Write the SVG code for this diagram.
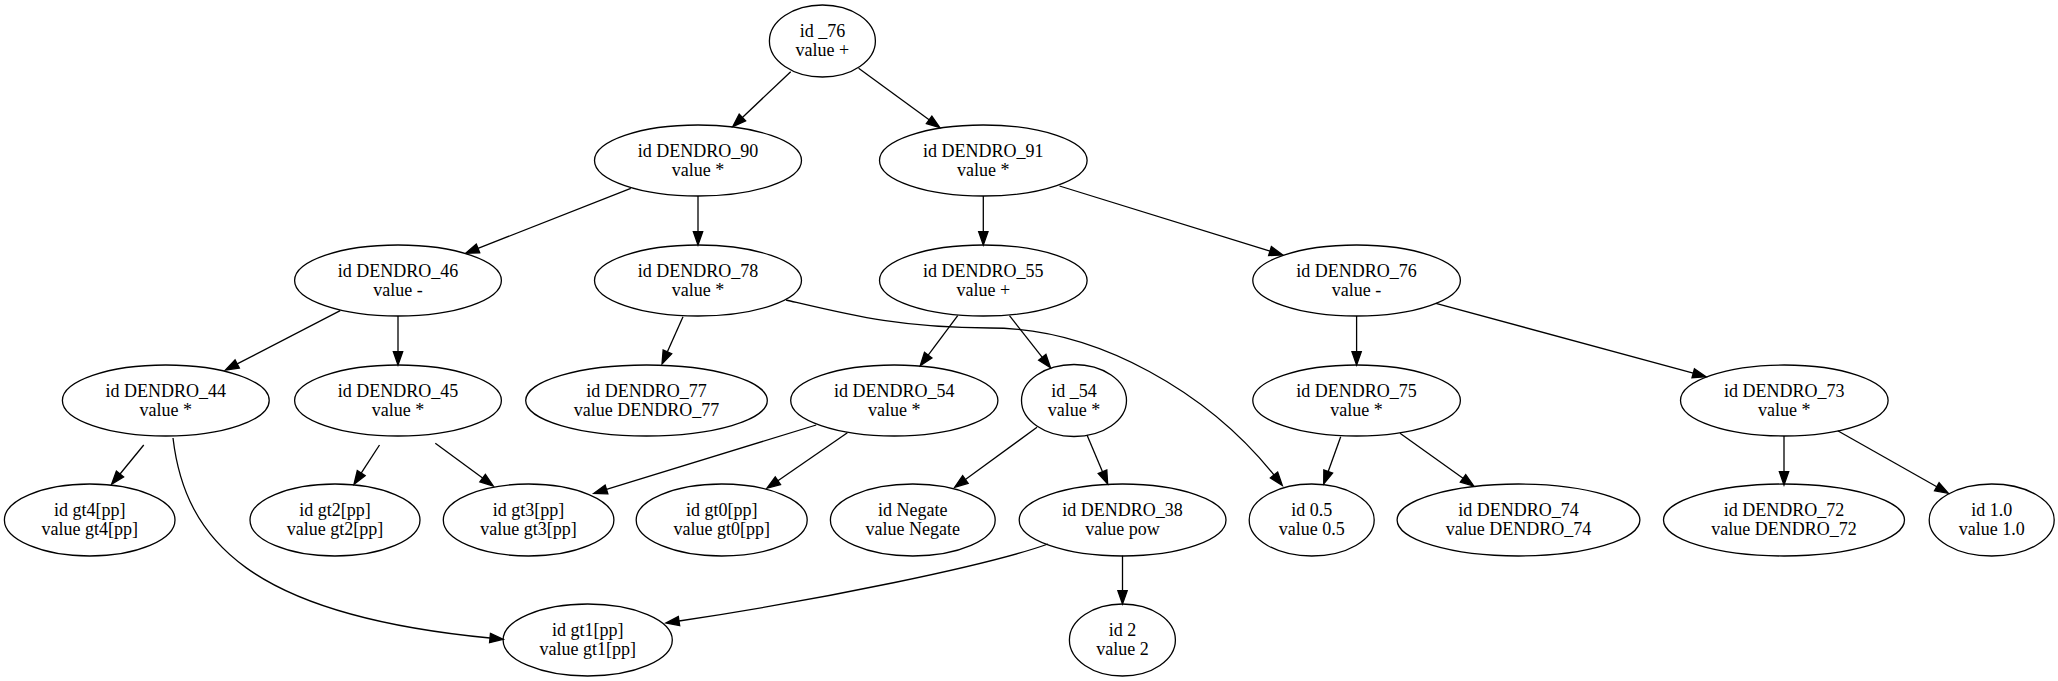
<svg xmlns="http://www.w3.org/2000/svg" width="2058" height="681" viewBox="0 0 2058 681">
<style>
.n ellipse{fill:none;stroke:#000;stroke-width:1.3}
.n text{font-family:"Liberation Serif","Times New Roman",serif;font-size:18px;fill:#000;text-anchor:middle}
.e path{fill:none;stroke:#000;stroke-width:1.3;marker-end:url(#ah)}
</style>
<defs>
<marker id="ah" markerWidth="14" markerHeight="10" refX="0" refY="4.67" orient="auto" markerUnits="userSpaceOnUse" overflow="visible"><path d="M0,0 L13.3,4.67 L0,9.33 Z" fill="#000" stroke="#000" stroke-width="1.3"/></marker>
</defs>
<rect width="2058" height="681" fill="#fff"/>
<g id="edges" class="e">
<path d="M790.7,71.7 L742.4,117.5"/>
<path d="M858.6,68.3 L929.1,119.8"/>
<path d="M630.8,188.3 L478,248.4"/>
<path d="M698,196 L698,231.7"/>
<path d="M983.3,196 L983.3,231.7"/>
<path d="M1059.5,186 L1270,251.1"/>
<path d="M340.2,310.7 L237.2,363.9"/>
<path d="M398,316 L398,351.7"/>
<path d="M683,316.7 L667.4,351.8"/>
<path d="M957.7,315.7 L928.2,355.1"/>
<path d="M1009.5,315.7 L1042.3,357.3"/>
<path d="M1356.6,316 L1356.6,351.7"/>
<path d="M1435.9,303.3 L1693.2,373.2"/>
<path d="M143.75,445 L120,474"/>
<path d="M173,438 C185,540 250,615 490,638"/>
<path d="M379.5,445 L361.2,473.1"/>
<path d="M435.3,443.3 L482.6,478.1"/>
<path d="M816.2,425 L606.5,489.4"/>
<path d="M847.4,432.7 L777.9,480.7"/>
<path d="M1037,427.3 L965.4,479.5"/>
<path d="M1087,435 L1102.5,471.75"/>
<path d="M1048,544 C990,565 820,600 679,621"/>
<path d="M1122.5,555.5 L1122.5,590.7"/>
<path d="M786,300 C850,315 900,328 990,328 C1100,328 1210,395 1274,475"/>
<path d="M1340.7,436.7 L1328.2,471.5"/>
<path d="M1400,433.3 L1463,478.3"/>
<path d="M1784,436 L1784,471.7"/>
<path d="M1837.7,430.7 L1936.8,486.8"/>
</g>
<g id="n_76" class="n"><ellipse cx="822.4" cy="41" rx="53" ry="36"/><text x="822.4" y="37">id _76</text><text x="822.4" y="56">value +</text></g>
<g id="DENDRO_90" class="n"><ellipse cx="698" cy="160.5" rx="103.5" ry="35.5"/><text x="698" y="156.5">id DENDRO_90</text><text x="698" y="175.5">value *</text></g>
<g id="DENDRO_91" class="n"><ellipse cx="983.3" cy="160.5" rx="103.8" ry="35.5"/><text x="983.3" y="156.5">id DENDRO_91</text><text x="983.3" y="175.5">value *</text></g>
<g id="DENDRO_46" class="n"><ellipse cx="398" cy="280.5" rx="103.4" ry="35.5"/><text x="398" y="276.5">id DENDRO_46</text><text x="398" y="295.5">value -</text></g>
<g id="DENDRO_78" class="n"><ellipse cx="698" cy="280.5" rx="103.5" ry="35.5"/><text x="698" y="276.5">id DENDRO_78</text><text x="698" y="295.5">value *</text></g>
<g id="DENDRO_55" class="n"><ellipse cx="983.3" cy="280.5" rx="103.8" ry="35.5"/><text x="983.3" y="276.5">id DENDRO_55</text><text x="983.3" y="295.5">value +</text></g>
<g id="DENDRO_76" class="n"><ellipse cx="1356.6" cy="280.5" rx="103.8" ry="35.5"/><text x="1356.6" y="276.5">id DENDRO_76</text><text x="1356.6" y="295.5">value -</text></g>
<g id="DENDRO_44" class="n"><ellipse cx="165.8" cy="400.5" rx="103.4" ry="35.5"/><text x="165.8" y="396.5">id DENDRO_44</text><text x="165.8" y="415.5">value *</text></g>
<g id="DENDRO_45" class="n"><ellipse cx="398" cy="400.5" rx="103.4" ry="35.5"/><text x="398" y="396.5">id DENDRO_45</text><text x="398" y="415.5">value *</text></g>
<g id="DENDRO_77" class="n"><ellipse cx="646.5" cy="400.5" rx="120.8" ry="35.5"/><text x="646.5" y="396.5">id DENDRO_77</text><text x="646.5" y="415.5">value DENDRO_77</text></g>
<g id="DENDRO_54" class="n"><ellipse cx="894.3" cy="400.5" rx="103.6" ry="35.5"/><text x="894.3" y="396.5">id DENDRO_54</text><text x="894.3" y="415.5">value *</text></g>
<g id="n_54" class="n"><ellipse cx="1074" cy="400.5" rx="52.5" ry="36"/><text x="1074" y="396.5">id _54</text><text x="1074" y="415.5">value *</text></g>
<g id="DENDRO_75" class="n"><ellipse cx="1356.6" cy="400.5" rx="103.8" ry="35.5"/><text x="1356.6" y="396.5">id DENDRO_75</text><text x="1356.6" y="415.5">value *</text></g>
<g id="DENDRO_73" class="n"><ellipse cx="1784.3" cy="400.5" rx="103.8" ry="35.5"/><text x="1784.3" y="396.5">id DENDRO_73</text><text x="1784.3" y="415.5">value *</text></g>
<g id="gt4" class="n"><ellipse cx="89.7" cy="520" rx="85.3" ry="36"/><text x="89.7" y="516">id gt4[pp]</text><text x="89.7" y="535">value gt4[pp]</text></g>
<g id="gt2" class="n"><ellipse cx="335" cy="520" rx="85" ry="36"/><text x="335" y="516">id gt2[pp]</text><text x="335" y="535">value gt2[pp]</text></g>
<g id="gt3" class="n"><ellipse cx="528.6" cy="520" rx="85.3" ry="36"/><text x="528.6" y="516">id gt3[pp]</text><text x="528.6" y="535">value gt3[pp]</text></g>
<g id="gt0" class="n"><ellipse cx="721.7" cy="520" rx="85.5" ry="36"/><text x="721.7" y="516">id gt0[pp]</text><text x="721.7" y="535">value gt0[pp]</text></g>
<g id="Negate" class="n"><ellipse cx="912.8" cy="520" rx="82.4" ry="36"/><text x="912.8" y="516">id Negate</text><text x="912.8" y="535">value Negate</text></g>
<g id="DENDRO_38" class="n"><ellipse cx="1122.6" cy="520" rx="103.4" ry="36"/><text x="1122.6" y="516">id DENDRO_38</text><text x="1122.6" y="535">value pow</text></g>
<g id="n0_5" class="n"><ellipse cx="1311.7" cy="520" rx="62.5" ry="36"/><text x="1311.7" y="516">id 0.5</text><text x="1311.7" y="535">value 0.5</text></g>
<g id="DENDRO_74" class="n"><ellipse cx="1518.5" cy="520" rx="121.4" ry="36"/><text x="1518.5" y="516">id DENDRO_74</text><text x="1518.5" y="535">value DENDRO_74</text></g>
<g id="DENDRO_72" class="n"><ellipse cx="1784" cy="520" rx="120.5" ry="36"/><text x="1784" y="516">id DENDRO_72</text><text x="1784" y="535">value DENDRO_72</text></g>
<g id="n1_0" class="n"><ellipse cx="1991.7" cy="520" rx="62.5" ry="36"/><text x="1991.7" y="516">id 1.0</text><text x="1991.7" y="535">value 1.0</text></g>
<g id="gt1" class="n"><ellipse cx="587.7" cy="640" rx="84.6" ry="36"/><text x="587.7" y="636">id gt1[pp]</text><text x="587.7" y="655">value gt1[pp]</text></g>
<g id="n2" class="n"><ellipse cx="1122.4" cy="640" rx="53" ry="36"/><text x="1122.4" y="636">id 2</text><text x="1122.4" y="655">value 2</text></g>
</svg>
